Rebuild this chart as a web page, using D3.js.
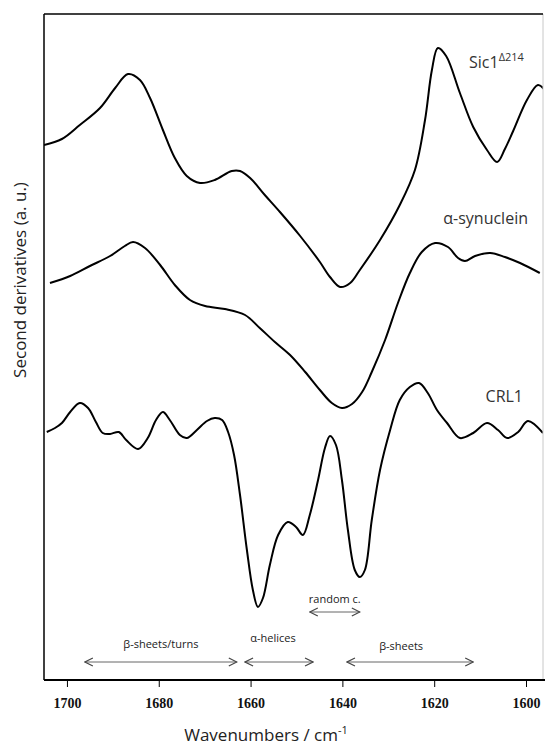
<!DOCTYPE html>
<html>
<head>
<meta charset="utf-8">
<script src="https://cdn.jsdelivr.net/npm/d3@7"></script>
<style>
body { margin: 0; background: #fff; }
svg text { font-family: "Open Sans", sans-serif; }
.tick text { font-family: "Liberation Serif", serif; font-weight: bold; font-size: 14px; fill: #111; }
.curve { fill: none; stroke: #000; stroke-width: 2; }
</style>
</head>
<body>
<div id="chart"></div>
<script>

// wavenumbers (cm-1) and second derivative values (a.u.)
const sic1Wn  = [1705.0,1701.1,1697.2,1692.8,1689.5,1686.7,1684.1,1681.9,1679.1,1676.5,1673.9,1671.0,1667.8,1664.1,1662.3,1660.1,1656.9,1653.6,1649.2,1644.9,1642.7,1640.5,1638.3,1636.2,1631.8,1627.5,1624.2,1622.0,1620.5,1619.2,1617.4,1614.4,1611.5,1608.5,1606.3,1604.6,1602.8,1599.8,1597.4,1595.9]
const sic1Val = [53.5,54.1,55.5,57.2,59.2,60.6,60.0,58.2,55.0,52.2,50.4,49.7,50.0,50.9,50.9,50.2,48.5,46.8,44.4,41.8,40.3,39.3,39.7,41.0,44.0,47.5,51.0,56.0,61.0,63.2,62.4,58.7,55.3,53.0,51.8,53.1,54.9,58.0,59.5,59.0]

const synWn  = [1703.7,1699.3,1695.0,1690.6,1687.4,1685.6,1683.0,1679.7,1676.5,1673.2,1669.9,1665.6,1661.2,1658.0,1654.7,1651.4,1648.1,1644.9,1642.3,1640.1,1637.9,1635.7,1633.6,1630.7,1627.9,1625.3,1622.7,1619.8,1617.0,1614.8,1613.3,1611.1,1607.8,1604.6,1601.3,1597.0]
const synVal = [39.7,40.4,41.4,42.4,43.4,43.8,43.2,41.5,39.5,38.0,37.4,37.1,36.5,35.2,33.8,32.5,30.8,29.0,27.7,27.2,27.6,28.8,30.8,34.0,37.7,40.7,42.8,43.7,43.3,42.2,41.9,42.4,42.7,42.3,41.7,40.7]

const crlWn  = [1704.4,1702.6,1701.1,1699.3,1697.2,1695.4,1693.7,1692.2,1690.6,1688.7,1687.1,1684.5,1682.4,1680.6,1679.1,1677.6,1675.4,1673.9,1671.7,1669.5,1667.8,1666.2,1664.9,1663.6,1662.3,1660.8,1659.5,1658.4,1657.3,1655.8,1654.0,1651.9,1650.1,1648.6,1647.1,1645.3,1643.8,1642.7,1641.4,1640.1,1638.8,1637.3,1636.2,1635.1,1633.6,1631.8,1629.6,1627.5,1625.3,1623.3,1621.4,1619.4,1617.2,1614.4,1611.5,1608.5,1606.1,1604.1,1601.7,1599.6,1596.3]
const crlVal = [24.8,25.2,25.7,26.8,27.7,27.2,25.8,24.7,24.6,24.8,24.0,23.1,24.2,26.0,26.8,26.0,24.5,24.2,25.0,25.9,26.2,26.0,24.8,22.5,18.5,13.0,9.0,7.3,8.2,11.5,14.5,15.8,15.3,14.5,16.5,20.0,23.2,24.4,23.5,20.0,15.0,11.0,10.3,11.0,16.0,21.0,25.0,28.0,29.3,29.7,28.7,27.0,25.7,24.2,24.7,25.7,25.0,24.2,24.8,25.9,24.7]

const tickValues = [1700, 1680, 1660, 1640, 1620, 1600]

// band assignments: name, from, to (cm-1)
const bandNames = ["β-sheets/turns", "α-helices", "random c.", "β-sheets"]
const bandFrom  = [1696.1, 1661.2, 1647.1, 1639.0]
const bandTo    = [1663.0, 1646.4, 1636.2, 1611.5]

const width = 545, height = 749
const plotLeft = 44, plotRight = 543, plotTop = 14, plotBottom = 680

const svg = d3.select("#chart").append("svg")
	.attr("width", width)
	.attr("height", height)

const x = d3.scaleLinear()
	.domain([1705, 1596.3])
	.range([plotLeft, plotRight])

const y = d3.scaleLinear()
	.domain([0, 66.6])
	.range([plotBottom, plotTop])

svg.append("clipPath").attr("id", "plotClip")
	.append("rect")
	.attr("x", plotLeft).attr("y", plotTop)
	.attr("width", plotRight - plotLeft).attr("height", plotBottom - plotTop)

const line = d3.line()
	.x(d => x(d[0]))
	.y(d => y(d[1]))
	.curve(d3.curveCatmullRom.alpha(0.5))

const series = [
	[sic1Wn, sic1Val],
	[synWn, synVal],
	[crlWn, crlVal]
]

svg.append("g")
	.attr("clip-path", "url(#plotClip)")
	.selectAll("path")
	.data(series)
	.enter().append("path")
		.attr("class", "curve")
		.attr("d", s => line(d3.zip(s[0], s[1])))

// frame
svg.append("line").attr("x1", plotRight).attr("x2", plotRight).attr("y1", plotTop).attr("y2", plotBottom)
	.attr("stroke", "#c8c8c8").attr("stroke-width", 1)
svg.append("line").attr("x1", plotLeft).attr("x2", plotRight).attr("y1", plotTop).attr("y2", plotTop)
	.attr("stroke", "#000").attr("stroke-width", 1.5)
svg.append("line").attr("x1", plotLeft).attr("x2", plotLeft).attr("y1", plotTop).attr("y2", plotBottom)
	.attr("stroke", "#000").attr("stroke-width", 1.5)

const xAxis = svg.append("g")
	.attr("transform", `translate(0,${plotBottom})`)
	.call(d3.axisBottom(x).tickValues(tickValues).tickSize(7).tickPadding(11).tickFormat(d3.format("d")))

xAxis.select(".domain").remove()
xAxis.selectAll(".tick line").attr("stroke", "#000").attr("stroke-width", 1)
xAxis.append("line").attr("x1", plotLeft).attr("x2", width).attr("y1", 0).attr("y2", 0)
	.attr("stroke", "#000").attr("stroke-width", 2)

// axis titles
const xTitle = svg.append("text")
	.attr("x", 266)
	.attr("y", 741)
	.attr("text-anchor", "middle")
	.attr("font-size", 17)
	.attr("fill", "#222")
xTitle.append("tspan").text("Wavenumbers / cm")
xTitle.append("tspan").attr("font-size", 11).attr("dy", -7).text("-1")

svg.append("text")
	.attr("transform", "translate(26,280) rotate(-90)")
	.attr("text-anchor", "middle")
	.attr("font-size", 17)
	.attr("fill", "#222")
	.text("Second derivatives (a. u.)")

// curve labels
const sicLabel = svg.append("text")
	.attr("x", 469).attr("y", 68)
	.attr("font-size", 16).attr("fill", "#333")
sicLabel.append("tspan").text("Sic1")
sicLabel.append("tspan").attr("font-size", 11).attr("dy", -7).text("Δ214")

svg.append("text").attr("x", 528).attr("y", 224).attr("text-anchor", "end")
	.attr("font-size", 16).attr("fill", "#333").text("α-synuclein")

svg.append("text").attr("x", 523).attr("y", 402).attr("text-anchor", "end")
	.attr("font-size", 16).attr("fill", "#333").text("CRL1")

// band arrows
svg.append("defs").append("marker")
	.attr("id", "chev")
	.attr("viewBox", "0 0 10 10")
	.attr("refX", 9).attr("refY", 5)
	.attr("markerWidth", 10).attr("markerHeight", 10)
	.attr("markerUnits", "userSpaceOnUse")
	.attr("orient", "auto-start-reverse")
	.append("path")
		.attr("d", "M1,1 L9,5 L1,9")
		.attr("fill", "none")
		.attr("stroke", "#444")
		.attr("stroke-width", 1.2)

const arrowY = [662, 662, 612, 662]
const labelY = [648, 642, 603, 650]

const bands = svg.append("g").selectAll("g")
	.data(bandNames)
	.enter().append("g")

bands.append("line")
	.attr("x1", (d, i) => x(bandFrom[i]))
	.attr("x2", (d, i) => x(bandTo[i]))
	.attr("y1", (d, i) => arrowY[i])
	.attr("y2", (d, i) => arrowY[i])
	.attr("stroke", "#666")
	.attr("stroke-width", 1)
	.attr("marker-start", "url(#chev)")
	.attr("marker-end", "url(#chev)")

bands.append("text")
	.attr("x", (d, i) => (x(bandFrom[i]) + x(bandTo[i])) / 2 + (i == 1 ? -6 : i == 3 ? -9 : 0))
	.attr("y", (d, i) => labelY[i])
	.attr("text-anchor", "middle")
	.attr("font-size", 11)
	.attr("fill", "#222")
	.text(d => d)

</script>
</body>
</html>
